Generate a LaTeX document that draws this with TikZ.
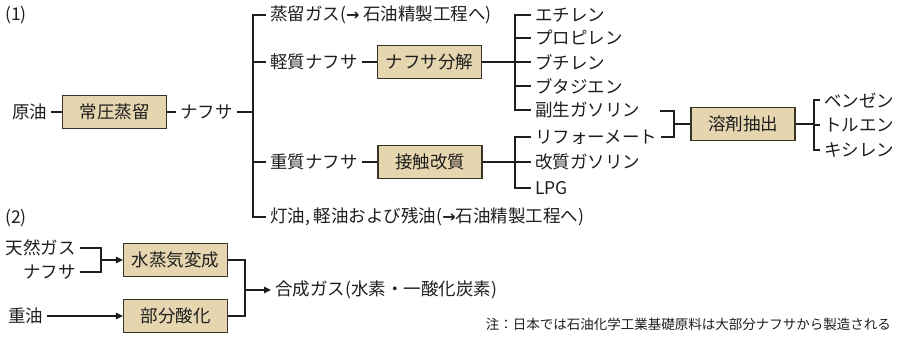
\documentclass[tikz,border=0pt]{standalone}
\usepackage{fontspec}
\newfontfamily\jp{Noto Sans CJK JP}
\newfontfamily\dv{DejaVu Sans}
\usetikzlibrary{arrows.meta}
\definecolor{boxfill}{HTML}{E6D6B0}
\definecolor{boxline}{HTML}{3A3328}
\definecolor{ink}{HTML}{1E1E1E}
\newcommand{\harr}{{\dv\bfseries\fontsize{16}{16}\selectfont →}}
\begin{document}
\begin{tikzpicture}[x=1pt,y=-1pt,
  lbl/.style={font=\jp\fontsize{17.5}{17.5}\selectfont, text=ink, inner xsep=4pt, inner ysep=1pt},
  proc/.style={draw=boxline, fill=boxfill, line width=1.1pt, minimum width=104pt, minimum height=33pt, inner sep=0pt, font=\jp\fontsize{17.5}{17.5}\selectfont, text=ink},
  conn/.style={draw=ink, line width=1.3pt},
  arr/.style={conn, -{Triangle[length=7pt,width=6.5pt]}},
]
\useasboundingbox (0,0) rectangle (903,340);
% ---- (1)
\node[lbl, anchor=west] (s1) at (1,15) {(1)};
\node[lbl, anchor=west] (crude) at (8,112) {原油};
\node[proc] (atm) at (114.5,112) {常圧蒸留};
\node[lbl, anchor=west] (naph) at (176,112) {ナフサ};
\coordinate (trtop) at (253,15);
\coordinate (trbot) at (253,217);
\node[lbl, anchor=west] (gas) at (266,15) {蒸留ガス(\harr\ 石油精製工程へ)};
\node[lbl, anchor=west] (light) at (266,62) {軽質ナフサ};
\node[lbl, anchor=west] (heavy) at (266,162) {重質ナフサ};
\node[lbl, anchor=west] (kero) at (266,217) {灯油, 軽油および残油(\harr 石油精製工程へ)};
\node[proc] (crack) at (429.5,62) {ナフサ分解};
\node[proc] (reform) at (430,162) {接触改質};
\coordinate (cx) at (515,62);
\coordinate (rx) at (515,162);
\node[lbl, anchor=west] (eth) at (531,15) {エチレン};
\node[lbl, anchor=west] (prop) at (531,38) {プロピレン};
\node[lbl, anchor=west] (but) at (531,62) {ブチレン};
\node[lbl, anchor=west] (buta) at (531,86) {ブタジエン};
\node[lbl, anchor=west] (bygas) at (531,110) {副生ガソリン};
\node[lbl, anchor=west] (refm) at (531,137) {リフォーメート};
\node[lbl, anchor=west] (refg) at (531,162) {改質ガソリン};
\node[lbl, anchor=west] (lpg) at (531,188) {LPG};
\coordinate (bk1) at (660,111);
\coordinate (bkx) at (674,124);
\node[proc] (solv) at (743,124) {溶剤抽出};
\coordinate (sx) at (814,124);
\node[lbl, anchor=west] (benz) at (820,100) {ベンゼン};
\node[lbl, anchor=west] (tol) at (820,125) {トルエン};
\node[lbl, anchor=west] (xyl) at (820,150) {キシレン};
% connectors (1)
\draw[conn] (crude.east) -- (atm.west);
\draw[conn] (atm.east) -- (naph.west);
\draw[conn] (naph.east) -- (naph.east -| trtop);
\draw[conn] (gas.west) -- (trtop) -- (trbot) -- (kero.west);
\draw[conn] (light.west) -- (light.west -| trtop);
\draw[conn] (heavy.west) -- (heavy.west -| trtop);
\draw[conn] (light.east) -- (crack.west);
\draw[conn] (heavy.east) -- (reform.west);
\draw[conn] (crack.east) -- (cx);
\draw[conn] (eth.west) -| (bygas.west -| cx) -- (bygas.west);
\draw[conn] (prop.west) -- (prop.west -| cx);
\draw[conn] (but.west) -- (cx);
\draw[conn] (buta.west) -- (buta.west -| cx);
\draw[conn] (reform.east) -- (rx);
\draw[conn] (refm.west) -| (lpg.west -| rx) -- (lpg.west);
\draw[conn] (refg.west) -- (rx);
\draw[conn] (bk1) -| (bkx |- refm.east) -- (refm.east);
\draw[conn] (bkx) -- (solv.west);
\draw[conn] (solv.east) -- (sx);
\draw[conn] (benz.west) -| (xyl.west -| sx) -- (xyl.west);
\draw[conn] (tol.west) -- (tol.west -| sx);
% ---- (2)
\node[lbl, anchor=west] (s2) at (1,218) {(2)};
\node[lbl, anchor=east] (ng) at (80,248) {天然ガス};
\node[lbl, anchor=east] (nf) at (80,272) {ナフサ};
\coordinate (jn2) at (101,260);
\node[proc] (steam) at (175.5,260) {水蒸気変成};
\node[lbl, anchor=west] (hoil) at (4,316) {重油};
\node[proc] (pox) at (175.5,316) {部分酸化};
\coordinate (jn3) at (245,290);
\node[lbl, anchor=west] (syn) at (271,290) {合成ガス(水素・一酸化炭素)};
\node[font=\jp\fontsize{13.5}{14}\selectfont, text=ink, anchor=east, inner sep=0pt] (note) at (891,324) {注：日本では石油化学工業基礎原料は大部分ナフサから製造される};
\draw[conn] (ng.east) -| (jn2 |- nf.east) -- (nf.east);
\draw[arr] (jn2) -- (steam.west);
\draw[arr] (hoil.east) -- (pox.west);
\draw[conn] (steam.east) -| (jn3 |- pox.east) -- (pox.east);
\draw[arr] (jn3) -- (syn.west);
\end{tikzpicture}
\end{document}
